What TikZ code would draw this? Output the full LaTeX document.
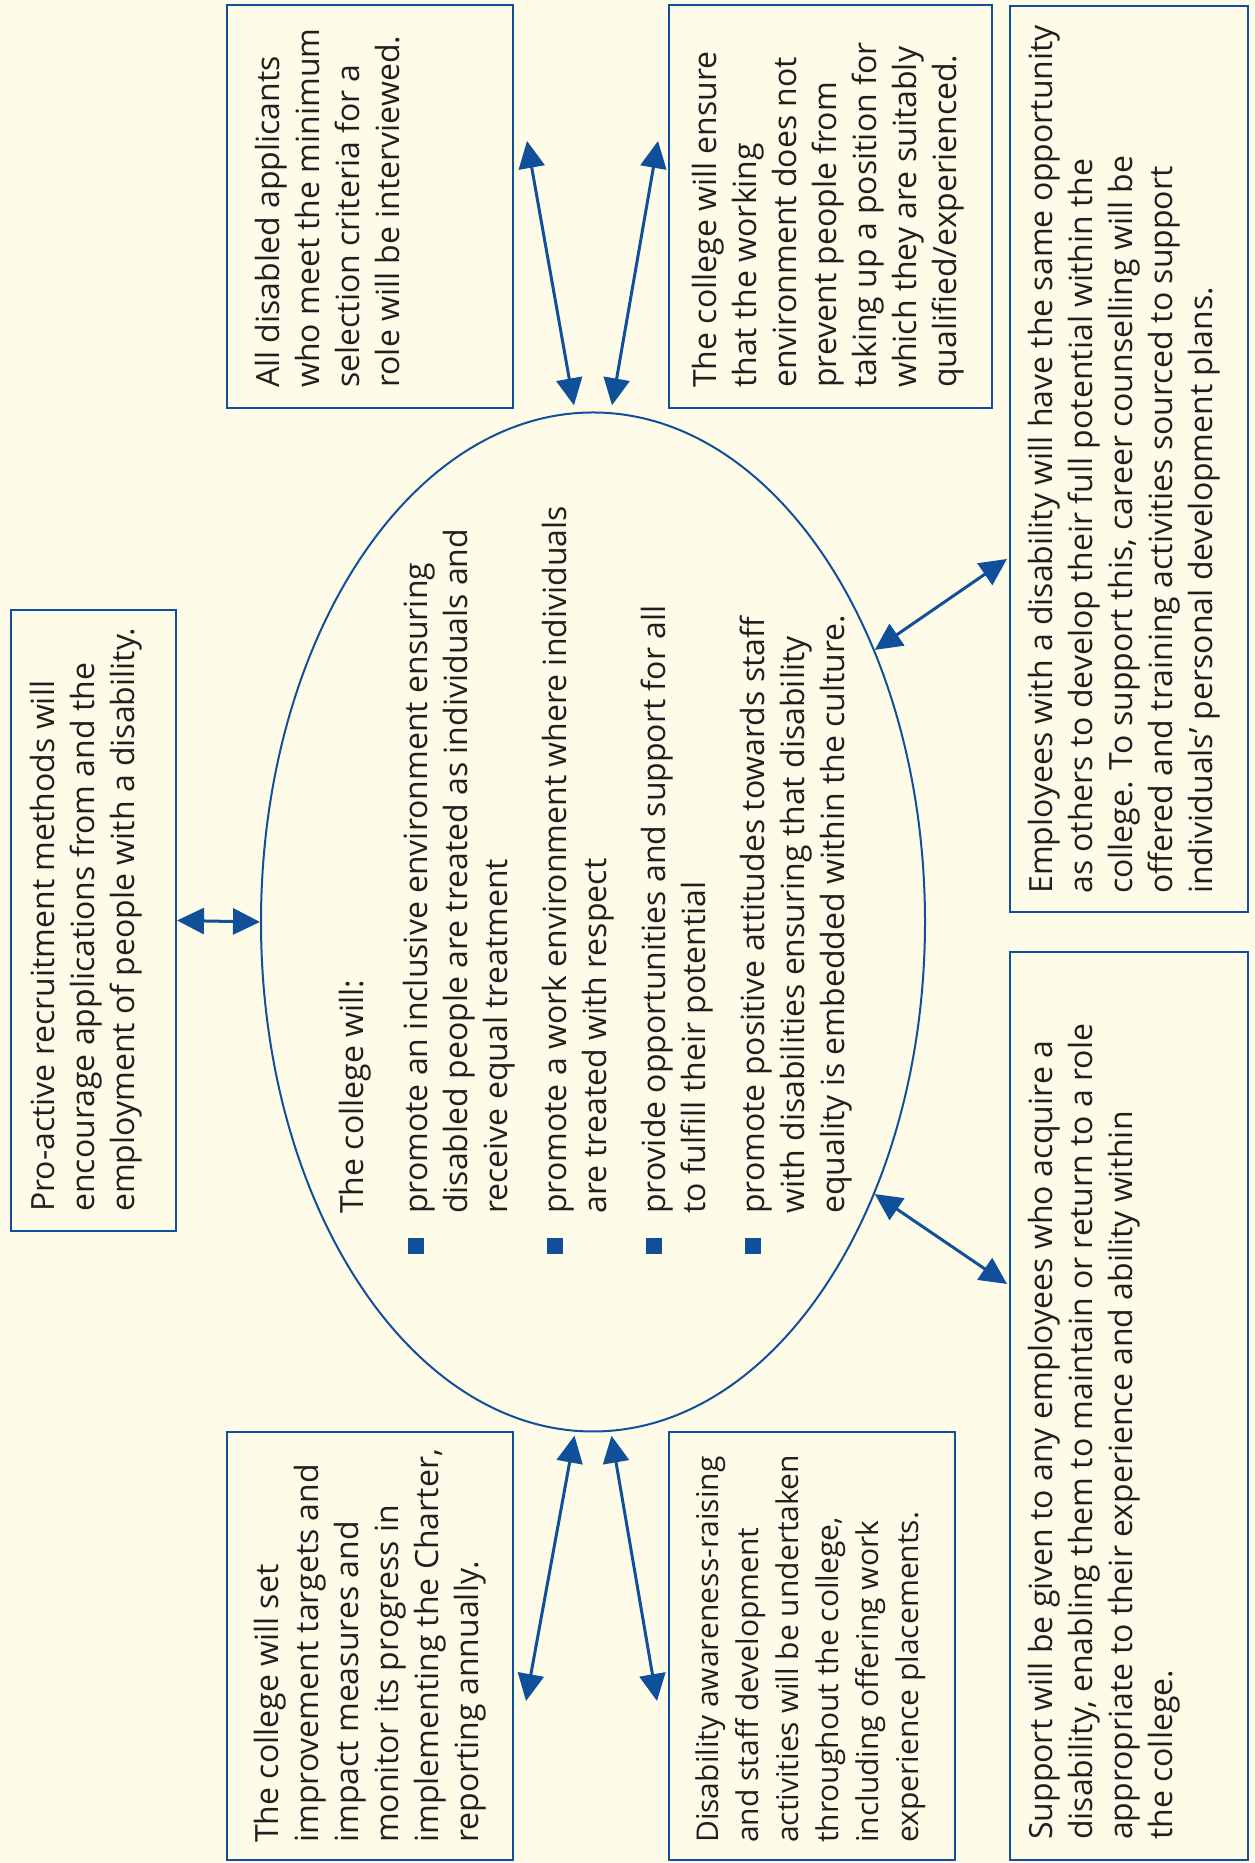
\documentclass[tikz,border=0pt]{standalone}
\usepackage{fontspec}
\setmainfont{Open Sans}
\usetikzlibrary{shapes.geometric,arrows.meta}
\definecolor{edgeblue}{RGB}{16,80,155}
\definecolor{paper}{RGB}{254,252,232}
\definecolor{ink}{RGB}{35,31,32}
\newcommand{\bul}{\textcolor{edgeblue}{\rule[3pt]{16pt}{16pt}}}
\newcommand{\textlines}[1]{\begin{tabular}[t]{@{}l@{}}#1\end{tabular}}
\tikzset{
  panel/.style={draw=edgeblue, line width=2pt, inner sep=0pt},
  blurb/.style={rotate=90, anchor=base west, inner sep=0pt, text=ink, font=\fontsize{32}{40}\selectfont},
  link/.style={edgeblue, line width=3pt, {Triangle[length=27pt,width=26pt]}-{Triangle[length=27pt,width=26pt]}}
}
\begin{document}
\begin{tikzpicture}[x=1pt,y=1pt]
\fill[paper] (0,0) rectangle (1255,1863);
\useasboundingbox (0,0) rectangle (1255,1863);

% frames
\node[panel, minimum width=165pt, minimum height=621pt] (b1) at (93.5,942.5) {};
\node[panel, minimum width=286pt, minimum height=403pt] (b2) at (370,1656.5) {};
\node[panel, minimum width=323pt, minimum height=403pt] (b3) at (830.5,1656.5) {};
\node[panel, minimum width=238pt, minimum height=906pt] (b4) at (1129,1404) {};
\node[panel, minimum width=238pt, minimum height=908pt] (b5) at (1129,457) {};
\node[panel, minimum width=286pt, minimum height=428pt] (b6) at (370,217) {};
\node[panel, minimum width=286pt, minimum height=428pt] (b7) at (812,217) {};
\node[draw=edgeblue, line width=2pt, ellipse, inner sep=0pt, minimum width=664pt, minimum height=1019pt] (core) at (593,941) {};

% texts, read bottom to top
\node[blurb] (t1) at (54,651) {\textlines{Pro-active recruitment methods will\\
encourage applications from and the\\
employment of people with a disability.}};
\node[blurb] (t2) at (279,1475) {\textlines{All disabled applicants\\
who meet the minimum\\
selection criteria for a\\
role will be interviewed.}};
\node[blurb] (t3) at (716,1475) {\textlines{The college will ensure\\
that the working\\
environment does not\\
prevent people from\\
taking up a position for\\
which they are suitably\\
qualified/experienced.}};
\node[blurb] (t4) at (1052,969) {\textlines{Employees with a disability will have the same opportunity\\
as others to develop their full potential within the\\
college. To support this, career counselling will be\\
offered and training activities sourced to support\\
individuals' personal development plans.}};
\node[blurb] (t5) at (1052,23) {\textlines{Support will be given to any employees who acquire a\\
disability, enabling them to maintain or return to a role\\
appropriate to their experience and ability within\\
the college.}};
\node[blurb] (t6) at (278,20) {\textlines{The college will set\\
improvement targets and\\
impact measures and\\
monitor its progress in\\
implementing the Charter,\\
reporting annually.}};
\node[blurb, font=\fontsize{30}{40}\selectfont] (t7) at (718,20) {\textlines{Disability awareness-raising\\
and staff development\\
activities will be undertaken\\
throughout the college,\\
including offering work\\
experience placements.}};
\node[blurb] (tcore) at (363,609) {\begin{tabular}[t]{@{}l@{\hspace{24pt}}l@{}}
& The college will:\\[24pt]
\bul & promote an inclusive environment ensuring\\
& disabled people are treated as individuals and\\
& receive equal treatment\\[19pt]
\bul & promote a work environment where individuals\\
& are treated with respect\\[19pt]
\bul & provide opportunities and support for all\\
& to fulfill their potential\\[19pt]
\bul & promote positive attitudes towards staff\\
& with disabilities ensuring that disability\\
& equality is embedded within the culture.
\end{tabular}};

% arrow ends off the frames
\coordinate (e2) at (527,1722);
\coordinate (e3) at (658,1722);
\coordinate (e4) at (1007,1304);
\coordinate (e5) at (1007,579);
\coordinate (e6) at (526,162);
\coordinate (e7) at (657,162);

\draw[link] (b1.east) -- (core.west);
\draw[link, shorten >=7pt] (e2) -- (core.92);
\draw[link, shorten >=7pt] (e3) -- (core.88);
\draw[link] (e4) -- (core.44);
\draw[link] (e5) -- (core.316);
\draw[link, shorten >=4pt] (e6) -- (core.268);
\draw[link, shorten >=4pt] (e7) -- (core.272);
\end{tikzpicture}
\end{document}
